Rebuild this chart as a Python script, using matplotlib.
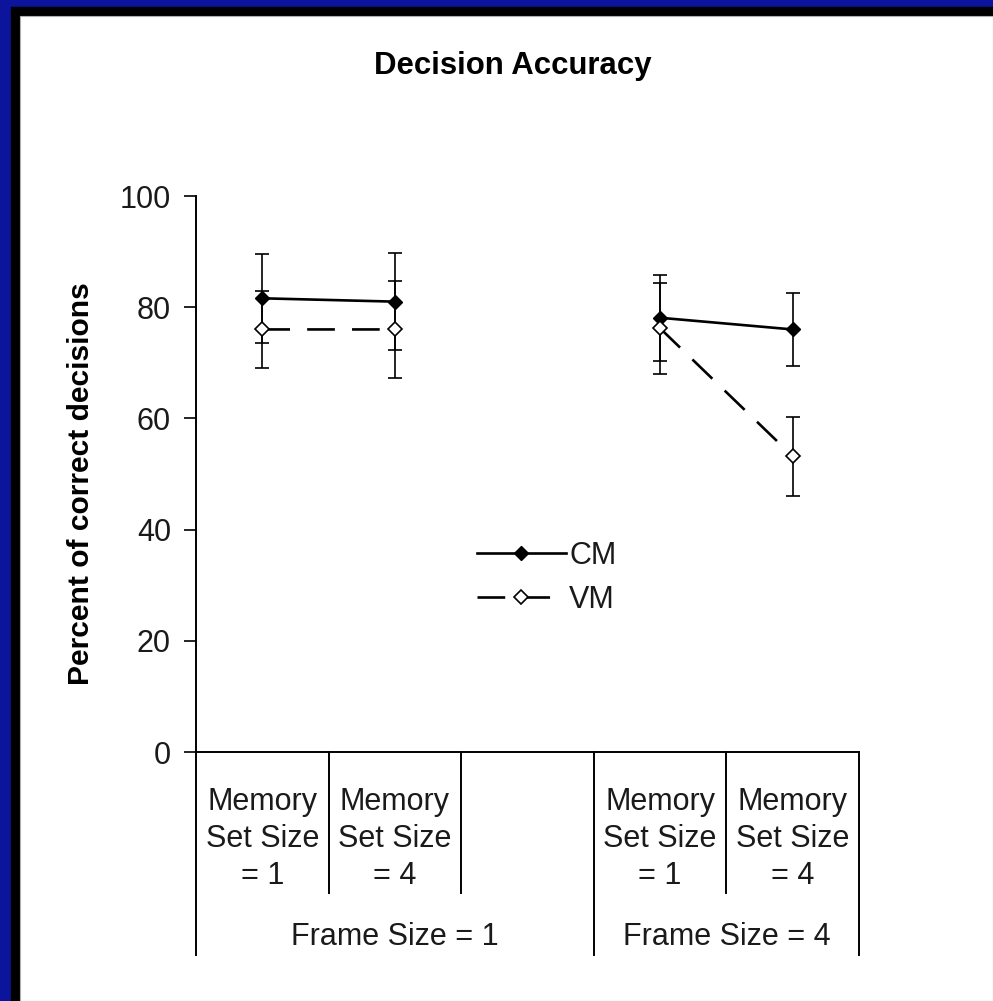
import numpy as np
import matplotlib
matplotlib.use("Agg")
import matplotlib.pyplot as plt
from matplotlib.patches import Rectangle
import matplotlib.transforms as mtransforms

# ---------------- data ----------------
categories = ["Memory\nSet Size\n= 1", "Memory\nSet Size\n= 4", "",
              "Memory\nSet Size\n= 1", "Memory\nSet Size\n= 4"]
groups = ["Frame Size = 1", "Frame Size = 4"]
group_sizes = [3, 2]
cm_mean = [81.6, 81.0, np.nan, 78.1, 76.0]
cm_err = [8.0, 8.7, np.nan, 7.7, 6.5]
vm_mean = [76.0, 76.0, np.nan, 76.2, 53.2]
vm_err = [7.0, 8.7, np.nan, 8.2, 7.1]
yticks = [0, 20, 40, 60, 80, 100]
title = "Decision Accuracy"
ylabel = "Percent of correct decisions"

plt.rcParams['font.family'] = ['Liberation Sans', 'DejaVu Sans']

W, H = 993, 1001
fig = plt.figure(figsize=(W / 100, H / 100), dpi=100)
fig.patch.set_facecolor('white')

def px(x0, y0, w, h):
    return (x0 / W, 1 - (y0 + h) / H, w / W, h / H)

# borders
x, y, w, h = px(0, 0, W, H)
fig.patches.append(Rectangle((x, y), w, h, transform=fig.transFigure, color='#0b149a', zorder=-10))
x, y, w, h = px(11, 7, W - 11, H - 7)
fig.patches.append(Rectangle((x, y), w, h, transform=fig.transFigure, color='black', zorder=-9))
x, y, w, h = px(20, 16, W - 20, H - 16)
fig.patches.append(Rectangle((x, y), w, h, transform=fig.transFigure, facecolor='white',
                             edgecolor='#b0b0b0', lw=0.8, zorder=-8))

TXT = '#1a1a1a'
FS = 22

# axes
left, right, top, bottom = 196, 859, 196, 752
ax = fig.add_axes([left / W, 1 - bottom / H, (right - left) / W, (bottom - top) / H])
ax.set_facecolor('none')
n = len(categories)
xs = np.arange(n)
ax.set_xlim(-0.5, n - 0.5)
ax.set_ylim(0, 100)

for s in ['top', 'right']:
    ax.spines[s].set_visible(False)
for s in ['left', 'bottom']:
    ax.spines[s].set_linewidth(1.4)
ax.set_yticks(yticks)
ax.tick_params(axis='y', direction='out', length=9, width=1.2, pad=9, labelsize=FS,
               labelcolor=TXT)
ax.set_xticks([])

# CM series
ax.errorbar(xs, cm_mean, yerr=cm_err, fmt='none', ecolor='black', elinewidth=1.2,
            capsize=5, capthick=1.2, zorder=3)
ax.plot(xs, cm_mean, color='black', lw=1.9, marker='D', ms=7.5, mfc='black', mec='black',
        zorder=4, label='CM')
# VM series
ax.errorbar(xs, vm_mean, yerr=vm_err, fmt='none', ecolor='black', elinewidth=1.2,
            capsize=5, capthick=1.2, zorder=3)
ax.plot(xs, vm_mean, color='black', lw=1.9, ls=(0, (10.5, 6.5)), marker='D', ms=7.5,
        mfc='white', mec='black', mew=1.2, zorder=5, label='VM')

# category axis
trans = mtransforms.blended_transform_factory(ax.transData, ax.transAxes)
ax_h = bottom - top
inner_bot = (bottom - 893) / ax_h
group_bot = (bottom - 955) / ax_h
bounds = np.cumsum([0] + group_sizes) - 0.5
for b in np.arange(n + 1) - 0.5:
    yb = group_bot if np.any(np.isclose(bounds, b)) else inner_bot
    ax.plot([b, b], [0, yb], color='black', lw=1.4, transform=trans, clip_on=False)
for i, lab in enumerate(categories):
    ax.text(xs[i], (bottom - 839) / ax_h, lab, transform=trans, ha='center', va='center',
            fontsize=FS, linespacing=1.29, color=TXT)
for g, lab in enumerate(groups):
    c = (bounds[g] + bounds[g + 1]) / 2
    ax.text(c, (bottom - 937) / ax_h, lab, transform=trans, ha='center', va='center',
            fontsize=FS, color=TXT)

# legend
leg = ax.legend(loc='center left', bbox_to_anchor=(477 / W, 1 - 578 / H),
                bbox_transform=fig.transFigure, frameon=False, fontsize=FS,
                handlelength=2.9, handletextpad=0.12, borderpad=0, borderaxespad=0,
                labelspacing=0.47)
for t in leg.get_texts():
    t.set_color(TXT)

fig.text(513 / W, 1 - 66 / H, title, ha='center', va='center', fontsize=22.4, fontweight='bold')
fig.text(81 / W, 1 - 484 / H, ylabel, ha='center', va='center', rotation=90, fontsize=21.6,
         fontweight='bold')

fig.savefig('out.png', dpi=100)
